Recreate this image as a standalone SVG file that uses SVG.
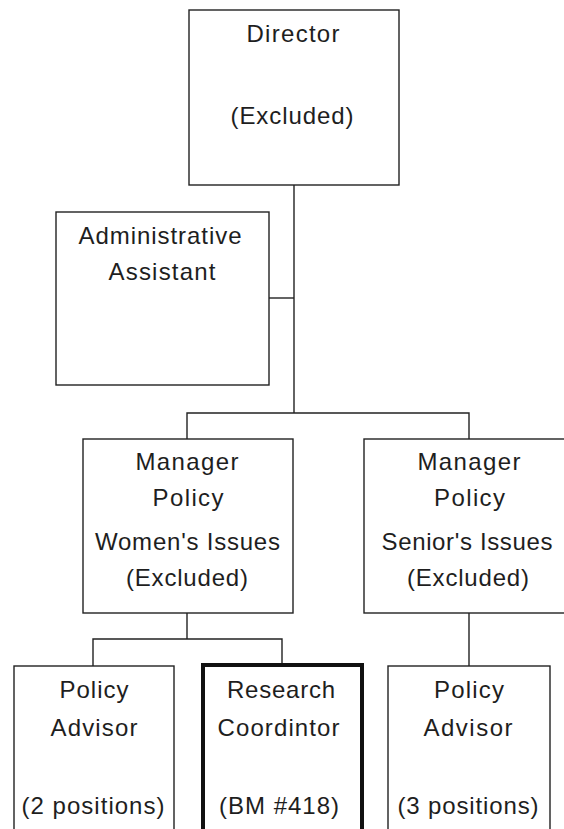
<svg xmlns="http://www.w3.org/2000/svg" width="564" height="829" viewBox="0 0 564 829">
<style>
.box{fill:#fff;stroke:#222;stroke-width:1.4}
.thick{fill:#fff;stroke:#111;stroke-width:4}
.t{font-family:"Liberation Sans",Arial,sans-serif;font-size:24px;fill:#1e1e1e;text-anchor:middle}
.c{stroke:#222;stroke-width:1.4;fill:none}
</style>
<rect width="564" height="829" fill="#fff"/>
<g id="connectors">
<line class="c" x1="294" y1="185" x2="294" y2="413"/>
<line class="c" x1="269" y1="298" x2="294" y2="298"/>
<polyline class="c" points="187,439 187,413 469,413 469,439"/>
<line class="c" x1="187" y1="613" x2="187" y2="639"/>
<polyline class="c" points="93,666 93,639 282,639 282,665"/>
<line class="c" x1="469" y1="613" x2="469" y2="666"/>
</g>
<g id="director">
<rect class="box" x="189" y="10" width="210" height="175"/>
<text class="t" x="293" y="42" textLength="93" lengthAdjust="spacing">Director</text>
<text class="t" x="292" y="124" textLength="123" lengthAdjust="spacing">(Excluded)</text>
</g>
<g id="admin">
<rect class="box" x="56" y="212" width="213" height="173"/>
<text class="t" x="160" y="244" textLength="163" lengthAdjust="spacing">Administrative</text>
<text class="t" x="162" y="280" textLength="107" lengthAdjust="spacing">Assistant</text>
</g>
<g id="mgr-women">
<rect class="box" x="83" y="439" width="210" height="174"/>
<text class="t" x="187" y="470" textLength="103" lengthAdjust="spacing">Manager</text>
<text class="t" x="188" y="506" textLength="71" lengthAdjust="spacing">Policy</text>
<text class="t" x="187.5" y="550" textLength="185" lengthAdjust="spacing">Women's Issues</text>
<text class="t" x="187" y="586" textLength="122" lengthAdjust="spacing">(Excluded)</text>
</g>
<g id="mgr-senior">
<rect class="box" x="364" y="439" width="212" height="174"/>
<text class="t" x="469" y="470" textLength="103" lengthAdjust="spacing">Manager</text>
<text class="t" x="469.5" y="506" textLength="71" lengthAdjust="spacing">Policy</text>
<text class="t" x="467" y="550" textLength="171" lengthAdjust="spacing">Senior's Issues</text>
<text class="t" x="468" y="586" textLength="122" lengthAdjust="spacing">(Excluded)</text>
</g>
<g id="advisor-women">
<rect class="box" x="14" y="666" width="160" height="170"/>
<text class="t" x="94" y="698" textLength="69" lengthAdjust="spacing">Policy</text>
<text class="t" x="94" y="736" textLength="87" lengthAdjust="spacing">Advisor</text>
<text class="t" x="93" y="814" textLength="143" lengthAdjust="spacing">(2 positions)</text>
</g>
<g id="research">
<rect class="thick" x="203" y="665" width="159" height="172"/>
<text class="t" x="281" y="698" textLength="108" lengthAdjust="spacing">Research</text>
<text class="t" x="278.5" y="736" textLength="122" lengthAdjust="spacing">Coordintor</text>
<text class="t" x="279" y="814" textLength="120" lengthAdjust="spacing">(BM #418)</text>
</g>
<g id="advisor-senior">
<rect class="box" x="388" y="666" width="162" height="170"/>
<text class="t" x="469" y="698" textLength="70" lengthAdjust="spacing">Policy</text>
<text class="t" x="468" y="736" textLength="89" lengthAdjust="spacing">Advisor</text>
<text class="t" x="468" y="814" textLength="141" lengthAdjust="spacing">(3 positions)</text>
</g>
</svg>
